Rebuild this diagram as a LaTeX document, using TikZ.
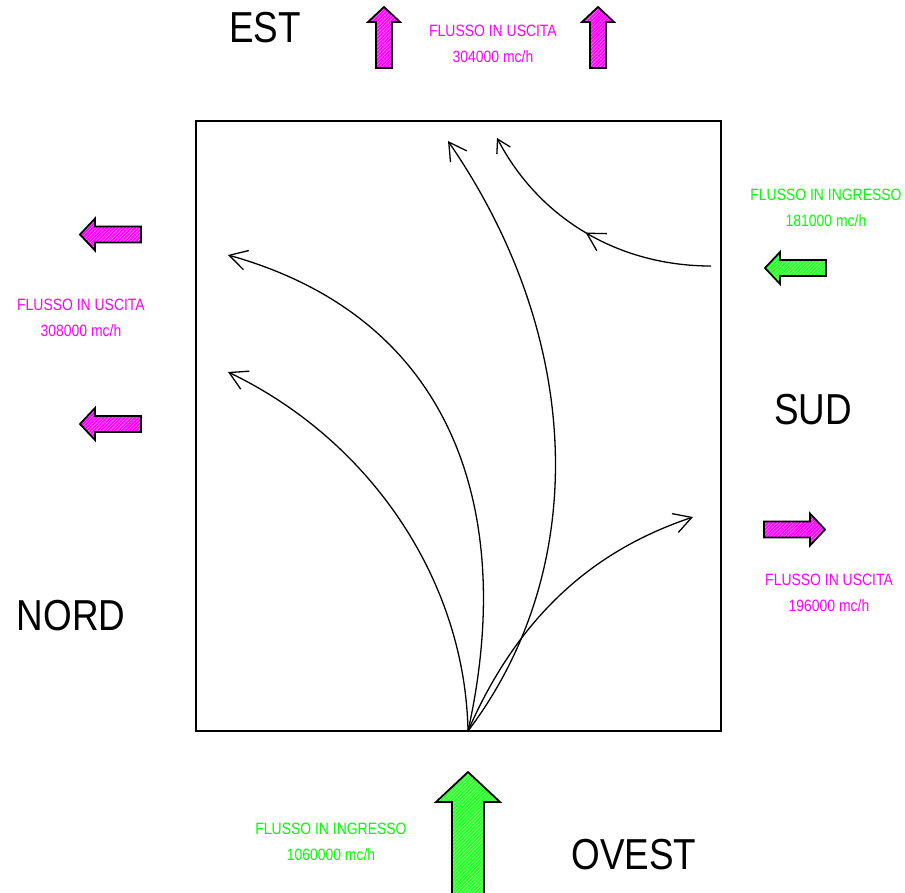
\documentclass[tikz,border=0pt]{standalone}
\usepackage{fontspec}
\setmainfont{Liberation Sans}[FakeStretch=0.85]
\usetikzlibrary{arrows.meta,patterns,decorations.markings}
\definecolor{rosa}{RGB}{255,0,255}
\definecolor{verde}{RGB}{0,255,0}
\tikzset{
  freccia/.pic={\path[#1] (0,-8) -- (46,-8) -- (46,-16) -- (61,0) -- (46,16) -- (46,8) -- (0,8) -- cycle;},
  uscita/.style={draw=black,line width=1.5pt,preaction={fill=rosa},pattern=north east lines,pattern color=white!55!rosa},
  ingresso/.style={draw=black,line width=1.5pt,preaction={fill=verde!85!white},pattern=north east lines,pattern color=white!60!verde},
  punta/.style={-{Straight Barb[length=#1,width=#1+2pt]}},
  flusso/.style={line width=1.1pt,punta=15pt},
  piccolo/.style={font=\fontsize{14}{22}\selectfont,align=center},
  grande/.style={font=\fontsize{37}{40}\selectfont}
}
\begin{document}
\begin{tikzpicture}[x=0.03cm,y=-0.03cm]
\clip (0,0) rectangle (905,892);
% incrocio
\draw[line width=1.1pt] (196,121) rectangle (721,731);
\coordinate (O) at (468,731);
\coordinate (nord-a) at (228,372);
\coordinate (nord-b) at (228,255);
\coordinate (est-a) at (448,141);
\coordinate (sud-a) at (693,517);
\coordinate (sud-in) at (711,266);
\coordinate (est-b) at (497,138);
\draw[flusso] (O) .. controls (465,580) and (370,440) .. (nord-a);
\draw[flusso] (O) .. controls (515,520) and (460,320) .. (nord-b);
\draw[flusso] (O) .. controls (590,570) and (585,340) .. (est-a);
\draw[flusso] (O) .. controls (525,600) and (610,545) .. (sud-a);
\draw[line width=1.1pt,punta=11pt,postaction={decorate},
  decoration={markings,mark=at position 0.5 with {\arrow{Straight Barb[length=15pt,width=17pt]}}}]
  (sud-in) .. controls (620,266) and (540,220) .. (est-b);
% frecce di flusso
\foreach \X [count=\Y] in {384,598}
  \pic[rotate=90] (su-\Y) at (\X,68) {freccia=uscita};
\foreach \Z [count=\Y] in {234.5,424}
  \pic[rotate=180] (sx-\Y) at (141,\Z) {freccia=uscita};
\pic[rotate=180] (dx-in) at (826,268) {freccia=ingresso};
\pic (dx-out) at (764,529.5) {freccia=uscita};
\pic[rotate=90,scale=2] (giu-in) at (468,894) {freccia=ingresso};
% testi
\node[grande] (t-est) at (265,28) {EST};
\node[grande] (t-sud) at (813,410) {SUD};
\node[grande] (t-nord) at (71,616) {NORD};
\node[grande] (t-ovest) at (634,855) {OVEST};
\node[piccolo,text=rosa] (q-est) at (493,44) {FLUSSO IN USCITA\\304000 mc/h};
\node[piccolo,text=verde] (q-sud-in) at (826,208) {FLUSSO IN INGRESSO\\181000 mc/h};
\node[piccolo,text=rosa] (q-nord) at (81,318) {FLUSSO IN USCITA\\308000 mc/h};
\node[piccolo,text=rosa] (q-sud) at (829,593) {FLUSSO IN USCITA\\196000 mc/h};
\node[piccolo,text=verde] (q-ovest) at (331,842) {FLUSSO IN INGRESSO\\1060000 mc/h};
\end{tikzpicture}
\end{document}
